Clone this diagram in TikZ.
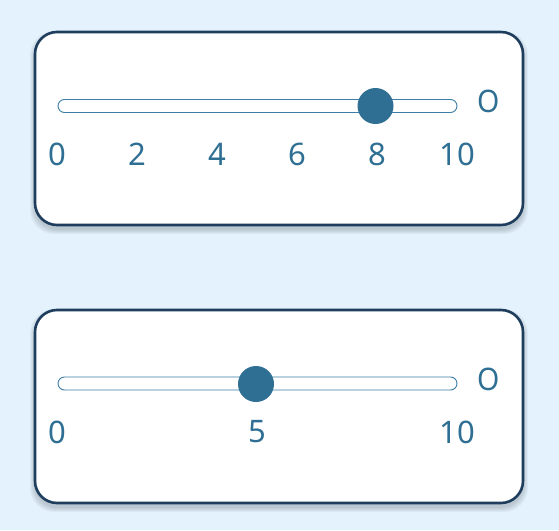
\documentclass[tikz,border=0pt]{standalone}
\usepackage{fontspec}
\setmainfont{Noto Sans}
\definecolor{pagebg}{HTML}{E3F2FD}
\definecolor{framecol}{HTML}{1F3D5C}
\definecolor{knobcol}{HTML}{2F6F93}
\definecolor{railcol}{HTML}{3B7DA6}
\tikzset{
  panel/.style={draw=framecol, line width=2.6pt, fill=white, rounded corners=22pt},
  panelshadow/.style={fill=black, opacity=0.035, rounded corners=24pt},
  rail/.style={draw=railcol, line width=0.9pt, fill=white, rounded corners=6.5pt},
  knob/.style={fill=knobcol},
  ticklabel/.style={text=knobcol, font=\fontsize{31}{36}\selectfont, inner sep=0pt},
}
\newcommand{\ringO}{\scalebox{0.92}[1]{O}}
\begin{document}
\begin{tikzpicture}[x=1pt,y=-1pt]
    % Background
    \fill[pagebg] (0,0) rectangle (559,530);
    \useasboundingbox (0,0) rectangle (559,530);

    % Soft shadows below both panels
    \foreach \dy in {0,278}{
        \foreach \s in {1,...,5}
            \fill[panelshadow] (35-\s,36+\dy-\s) rectangle (523+\s,229+\dy+\s);
    }

    % Top panel
    \draw[panel] (35,32) rectangle (523,225);
    \draw[rail] (58,99.5) rectangle (457,112.5);
    \fill[knob] (375.5,106) circle (18pt);
    \foreach \v in {0,2,...,10}
        \node[ticklabel] (top\v) at (57.7+\v*39.93,154) {\v};
    \node[ticklabel] (topring) at (488.7,101.7) {\ringO};

    % Bottom panel
    \draw[panel] (35,310) rectangle (523,503);
    \draw[rail] (58,377) rectangle (457,390);
    \fill[knob] (256,384) circle (18pt);
    \foreach \v in {0,5,10}
        \node[ticklabel] (bot\v) at (57.7+\v*39.93,432) {\v};
    \node[ticklabel] (botring) at (488.7,379) {\ringO};
\end{tikzpicture}
\end{document}
